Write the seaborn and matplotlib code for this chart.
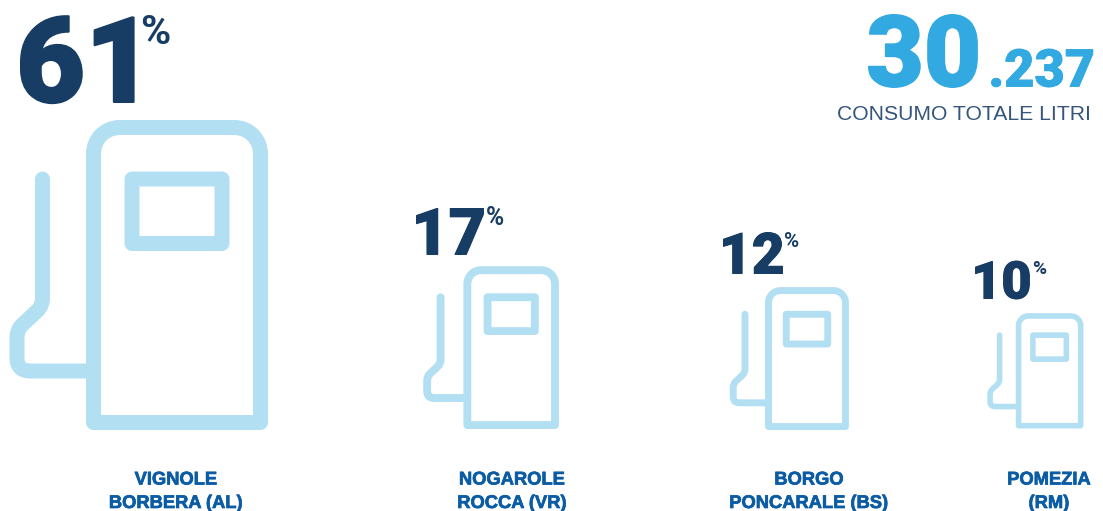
import matplotlib
matplotlib.use("Agg")
import matplotlib.pyplot as plt
import matplotlib.patheffects as pe
import seaborn as sns
from matplotlib.font_manager import FontProperties
from matplotlib.patches import PathPatch
from matplotlib.path import Path
from matplotlib.textpath import TextPath
from matplotlib.transforms import Affine2D

# data
sites = ["VIGNOLE\nBORBERA (AL)", "NOGAROLE\nROCCA (VR)", "BORGO\nPONCARALE (BS)", "POMEZIA\n(RM)"]
shares = [61, 17, 12, 10]
total_major = "30"
total_minor = ".237"
total_label = "CONSUMO TOTALE LITRI"

# layout, in pixels of the 1103x511 picture
pump_left = [10, 423.5, 730, 987.5]
pump_bottom = [430, 429, 430, 428.5]
pump_scale = [1.0, 0.525, 0.461, 0.372]
num_box = [(20, 103, 89), (416, 255, 47), (723, 274, 42), (975, 299, 39)]
pct_box = [(142, 44, 30), (487, 225, 18), (785, 247, 15), (1033, 274, 14)]
label_center = [176, 512, 809, 1049]

LIGHT, DARK, BRIGHT, LABEL, SUB = "#B3DFF3", "#173D65", "#33A9E1", "#0B5CA5", "#34557C"

sns.set_theme(style="white")
fig, ax = plt.subplots(figsize=(11.03, 5.11), dpi=100)
fig.subplots_adjust(0, 0, 1, 1)
ax.set_xlim(0, 1103)
ax.set_ylim(511, 0)
ax.set_axis_off()
sns.despine(ax=ax, left=True, bottom=True)

M, L, Q, K, C = Path.MOVETO, Path.LINETO, Path.CURVE3, Path.CURVE4, Path.CLOSEPOLY
body = Path([(93.5, 422.5), (93.5, 154), (93.5, 139), (105, 127.5), (120, 127.5), (234, 127.5),
             (249, 127.5), (260.5, 139), (260.5, 154), (260.5, 422.5), (93.5, 422.5)],
            [M, L, K, K, K, L, K, K, K, L, C])
screen = Path([(132, 179), (222, 179), (222, 243.5), (132, 243.5), (132, 179)], [M, L, L, L, C])
hose = Path([(42.5, 179), (42.5, 298), (42.5, 306), (37, 311), (22, 325), (17, 330), (17, 338),
             (17, 358), (17, 371), (30, 371), (93.5, 371)],
            [M, L, Q, Q, L, Q, Q, L, Q, Q, L])


def draw_pump(left, bottom, s):
    tr = Affine2D().translate(-10, -430).scale(s).translate(left, bottom)
    for p, w in ((hose, 15), (body, 15), (screen, 15)):
        ax.add_patch(PathPatch(p.transformed(tr), fc="none", ec=LIGHT, lw=w * s * 0.72,
                               joinstyle="round", capstyle="round", snap=False))


def fit_text(s, left, base, height, color, family, weight, bold=0.0):
    fp = FontProperties(family=family, weight=weight)
    ext = TextPath((0, 0), s, size=100, prop=fp).get_extents()
    grow = bold / 0.72
    k = (height - grow) / ext.height
    t = ax.text(left + grow / 2 - ext.x0 * k, base - grow / 2, s, color=color, fontproperties=fp,
                fontsize=100 * k * 0.72, ha="left", va="baseline")
    if bold:
        t.set_path_effects([pe.withStroke(linewidth=bold, foreground=color)])


HEAVY = "Roboto"
for i, site in enumerate(sites):
    draw_pump(pump_left[i], pump_bottom[i], pump_scale[i])
    x, b, h = num_box[i]
    fit_text(str(shares[i]), x, b, h, DARK, HEAVY, 900, bold=h * 0.018)
    x, b, h = pct_box[i]
    fit_text("%", x, b, h, DARK, HEAVY, 700)
    l1, l2 = site.split("\n")
    for text, y in ((l1, 484.5), (l2, 508)):
        ax.text(label_center[i], y, text, color=LABEL, family="Liberation Sans", weight="bold",
                fontsize=13.2, ha="center", va="baseline",
                path_effects=[pe.withStroke(linewidth=0.5, foreground=LABEL)])

fit_text(total_major, 868, 87, 74, BRIGHT, HEAVY, 900, bold=1.2)
fit_text(total_minor, 991, 87, 39, BRIGHT, HEAVY, 900, bold=0.6)
fit_text(total_label, 838, 120.5, 15, SUB, "Liberation Sans", 400)

fig.savefig("out.png", dpi=100)
